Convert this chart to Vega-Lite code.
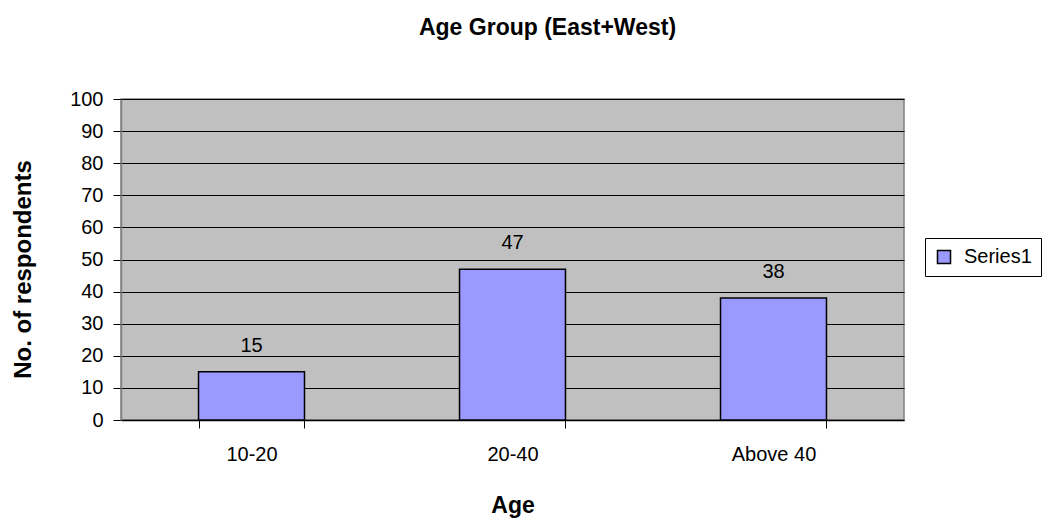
{
  "$schema": "https://vega.github.io/schema/vega-lite/v6.json",
  "autosize": {"type": "none"},
  "padding": {"left": 121, "top": 99, "right": 142, "bottom": 107},
  "width": 783,
  "height": 321,
  "background": "white",
  "config": {
    "font": "Liberation Sans",
    "view": {"fill": "#C0C0C0", "stroke": "#808080", "strokeWidth": 1.5}
  },
  "title": {
    "text": "Age Group (East+West)",
    "fontSize": 23,
    "fontWeight": "bold",
    "color": "black",
    "anchor": "middle",
    "baseline": "alphabetic",
    "dx": 35,
    "offset": 31
  },
  "data": {
    "values": [
      {"age": "10-20", "count": 15, "series": "Series1"},
      {"age": "20-40", "count": 47, "series": "Series1"},
      {"age": "Above 40", "count": 38, "series": "Series1"}
    ]
  },
  "encoding": {
    "x": {
      "field": "age",
      "type": "nominal",
      "sort": null,
      "scale": {"paddingInner": 0.594, "paddingOuter": 0.297},
      "axis": {
        "title": "Age",
        "titleFontSize": 23,
        "titleFontWeight": "bold",
        "titleColor": "black",
        "titleBaseline": "alphabetic",
        "titleX": 391.5,
        "titleY": 92,
        "labelAngle": 0,
        "labelFontSize": 20,
        "labelColor": "black",
        "labelPadding": 16,
        "tickBand": "extent",
        "tickSize": 8,
        "tickColor": "black",
        "domainColor": "black",
        "domainWidth": 1.5,
        "grid": false
      }
    },
    "y": {
      "field": "count",
      "type": "quantitative",
      "scale": {"domain": [0, 100], "nice": false},
      "axis": {
        "title": "No. of respondents",
        "titleFontSize": 24,
        "titleFontWeight": "bold",
        "titleColor": "black",
        "titleAngle": -90,
        "titleAlign": "center",
        "titleBaseline": "alphabetic",
        "titleX": -91,
        "titleY": 170,
        "values": [0, 10, 20, 30, 40, 50, 60, 70, 80, 90, 100],
        "labelFontSize": 20,
        "labelColor": "black",
        "labelPadding": 10,
        "tickSize": 8,
        "tickColor": "black",
        "domainColor": "#808080",
        "domainWidth": 1.5,
        "grid": true,
        "gridColor": "black",
        "gridOpacity": 1,
        "gridWidth": 1
      }
    }
  },
  "layer": [
    {
      "mark": {"type": "bar", "stroke": "black", "strokeWidth": 1.5},
      "encoding": {
        "color": {
          "field": "series",
          "type": "nominal",
          "scale": {"range": ["#9999FF"]},
          "legend": {
            "title": null,
            "orient": "none",
            "legendX": 804,
            "legendY": 139,
            "strokeColor": "black",
            "fillColor": "white",
            "padding": 9,
            "symbolType": "square",
            "symbolSize": 170,
            "symbolStrokeColor": "black",
            "symbolStrokeWidth": 1.5,
            "symbolOpacity": 1,
            "labelFontSize": 20,
            "labelColor": "black",
            "labelOffset": 10
          }
        }
      }
    },
    {
      "mark": {"type": "text", "baseline": "alphabetic", "dy": -20, "fontSize": 20, "color": "black"},
      "encoding": {"text": {"field": "count", "type": "quantitative"}}
    }
  ]
}
